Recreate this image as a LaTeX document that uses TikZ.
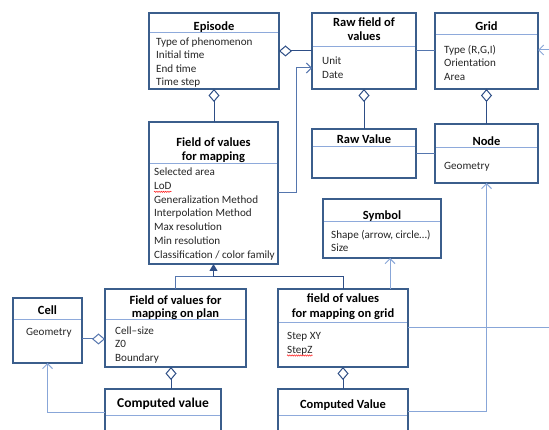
\documentclass[tikz,border=0pt]{standalone}
\usepackage{fontspec}
\setmainfont{Carlito}
\usetikzlibrary{arrows.meta,calc,decorations.pathmorphing}
\definecolor{boxc}{HTML}{3B5E8C}
\definecolor{divc}{HTML}{8EAADB}
\definecolor{aggc}{HTML}{2E4E86}
\definecolor{midc}{HTML}{5576AE}
\definecolor{litc}{HTML}{88A6D8}
\definecolor{txtc}{HTML}{262626}
\tikzset{
  umlbox/.style={draw=boxc, line width=1.6pt, fill=white, anchor=north west, inner sep=0pt, outer sep=0pt},
  ttl/.style={font=\fontsize{12.5}{15}\selectfont\bfseries, anchor=base, inner sep=0pt},
  bigttl/.style={font=\fontsize{13.5}{16}\selectfont\bfseries, anchor=base, inner sep=0pt},
  attr/.style={font=\fontsize{11.1}{13}\selectfont, anchor=base west, inner sep=0pt, text=txtc},
  divider/.style={draw=divc, line width=1pt, shorten <=0.8pt, shorten >=0.8pt},
  agg/.style={draw=aggc, line width=1pt},
  midline/.style={draw=midc, line width=1pt},
  litline/.style={draw=litc, line width=1pt},
  dia/.style={{Diamond[open,length=13pt,width=11pt,line width=1pt]}-},
  openarr/.style={-{Straight Barb[length=5pt,width=10pt,line width=1pt]}},
  genarr/.style={-{Triangle[length=7pt,width=8pt]}},
  squiggle/.style={draw=red, line width=0.4pt, decorate, decoration={snake, amplitude=0.7pt, segment length=2.2pt}},
}
\begin{document}
\begin{tikzpicture}[x=1pt,y=-1pt]
\path[use as bounding box, clip] (0,0) rectangle (549,430);
\fill[white] (0,0) rectangle (549,430);

% Episode
\node[umlbox, minimum width=130pt, minimum height=76pt] (ep) at (149,13) {};
\draw[divider] (ep.west |- 0,33) -- (ep.east |- 0,33);
\node[ttl] (ep-t) at (214,30.5) {Episode};
\foreach \t [count=\i] in {Type of phenomenon, Initial time, End time, Time step}
  \node[attr] (ep-a\i) at (156,{45.5+13.4*(\i-1)}) {\t};

% Raw field of values
\node[umlbox, minimum width=104pt, minimum height=76pt] (raw) at (312,13) {};
\draw[divider] (raw.west |- 0,47) -- (raw.east |- 0,47);
\node[ttl] (raw-t1) at (364,26.5) {Raw field of};
\node[ttl] (raw-t2) at (364,41) {values};
\node[attr] (raw-a1) at (322,64.5) {Unit};
\node[attr] (raw-a2) at (322,78.5) {Date};

% Grid
\node[umlbox, minimum width=103pt, minimum height=76pt] (grid) at (435,13) {};
\draw[divider] (grid.west |- 0,35) -- (grid.east |- 0,35);
\node[ttl] (grid-t) at (486.5,30.5) {Grid};
\node[attr] (grid-a1) at (444,53.5) {Type (R,G,I)};
\node[attr] (grid-a2) at (444,67) {Orientation};
\node[attr] (grid-a3) at (444,80.5) {Area};

% Raw Value
\node[umlbox, minimum width=104pt, minimum height=49pt] (rv) at (312,129) {};
\draw[divider] (rv.west |- 0,147) -- (rv.east |- 0,147);
\node[ttl] (rv-t) at (364,144) {Raw Value};

% Node
\node[umlbox, minimum width=103pt, minimum height=59pt] (nd) at (435,124) {};
\draw[divider] (nd.west |- 0,148) -- (nd.east |- 0,148);
\node[ttl] (nd-t) at (486.5,145.5) {Node};
\node[attr] (nd-a1) at (444,169.5) {Geometry};

% Field of values for mapping
\node[umlbox, minimum width=129pt, minimum height=142pt] (fvm) at (149,122) {};
\draw[divider] (fvm.west |- 0,164) -- (fvm.east |- 0,164);
\node[ttl] (fvm-t1) at (213.5,146.5) {Field of values};
\node[ttl] (fvm-t2) at (213.5,161) {for mapping};
\foreach \t [count=\i] in {Selected area, LoD, Generalization Method, Interpolation Method, Max resolution, Min resolution, Classification / color family}
  \node[attr] (fvm-a\i) at (154,{175.5+13.8*(\i-1)}) {\t};
\draw[squiggle] ($(fvm-a2.base west)+(0,2.5)$) -- ($(fvm-a2.base east)+(0,2.5)$);

% Symbol
\node[umlbox, minimum width=118pt, minimum height=59pt] (sym) at (323,199) {};
\draw[divider] (sym.west |- 0,222) -- (sym.east |- 0,222);
\node[ttl] (sym-t) at (382,219.5) {Symbol};
\node[attr] (sym-a1) at (331,238.5) {Shape (arrow, circle…)};
\node[attr] (sym-a2) at (331,251.5) {Size};

% Cell
\node[umlbox, minimum width=69pt, minimum height=65pt] (cell) at (13,298) {};
\draw[divider] (cell.west |- 0,320) -- (cell.east |- 0,320);
\node[ttl] (cell-t) at (47.5,314.5) {Cell};
\node[attr] (cell-a1) at (26,335.5) {Geometry};

% Field of values for mapping on plan
\node[umlbox, minimum width=141pt, minimum height=78pt] (plan) at (105,289) {};
\draw[divider] (plan.west |- 0,320) -- (plan.east |- 0,320);
\node[ttl] (plan-t1) at (175.5,304.5) {Field of values for};
\node[ttl] (plan-t2) at (175.5,317.5) {mapping on plan};
\node[attr] (plan-a1) at (115,334.5) {Cell–size};
\node[attr] (plan-a2) at (115,348) {Z0};
\node[attr] (plan-a3) at (115,361.5) {Boundary};

% field of values for mapping on grid
\node[umlbox, minimum width=130pt, minimum height=78pt] (fgrid) at (278,289) {};
\draw[divider] (fgrid.west |- 0,323) -- (fgrid.east |- 0,323);
\node[ttl] (fgrid-t1) at (343,302.5) {field of values};
\node[ttl] (fgrid-t2) at (343,317.5) {for mapping on grid};
\node[attr] (fgrid-a1) at (287,339.5) {Step XY};
\node[attr] (fgrid-a2) at (287,353) {StepZ};
\draw[squiggle] ($(fgrid-a2.base west)+(0,2.5)$) -- ($(fgrid-a2.base east)+(0,2.5)$);

% Computed value (plan)
\node[umlbox, minimum width=116pt, minimum height=46pt] (cv1) at (105,389) {};
\draw[divider] (cv1.west |- 0,415) -- (cv1.east |- 0,415);
\node[bigttl] (cv1-t) at (163,407) {Computed value};

% Computed Value (grid)
\node[umlbox, minimum width=130pt, minimum height=44pt] (cv2) at (278,389) {};
\draw[divider] (cv2.west |- 0,415) -- (cv2.east |- 0,415);
\node[ttl] (cv2-t) at (343,408) {Computed Value};

% free ends at the right edge
\coordinate (offgrid) at (552,50);
\coordinate (offfgrid) at (552,328);
\coordinate (genj) at (213.5,277);

% ---- connectors ----
% aggregations
\draw[agg, dia] (ep.east) -- (raw.west |- ep.east);
\draw[agg, dia] (ep.south) -- (fvm.north -| ep.south);
\draw[agg, dia] (raw.south) -- (rv.north);
\draw[agg, dia] (grid.south) -- (nd.north);
\draw[midline, dia] ($(plan.west)+(0,11)$) -- ($(cell.east)+(0,8.5)$);
\draw[agg, dia] ($(plan.south)+(-4.5,0)$) -- ($(cv1.north)+(8,0)$);
\draw[agg, dia] (fgrid.south) -- (cv2.north);

% plain associations
\draw[midline] (raw.east) -- (grid.west);
\draw[midline] (rv.east) -- (nd.west |- rv.east);
\draw[midline, openarr] (fvm.east) -- ++(18,0) |- ($(raw.west)+(0,17)$);

% generalization
\draw[midline] (plan.north) |- (genj);
\draw[agg] (genj) -| (fgrid.north);
\draw[agg, genarr] (genj) -- (fvm.south);

% light arrows
\draw[litline, openarr] ($(fgrid.north)+(47,0)$) -- ($(sym.south)+(8,0)$);
\draw[litline, openarr] (cv2.east) -| (nd.south);
\draw[litline, openarr] (cv1.west) -| (cell.south);
\draw[litline] (fgrid.east) -- (offfgrid);
\draw[litline, openarr] (offgrid) -- (grid.east |- offgrid);
\end{tikzpicture}
\end{document}
